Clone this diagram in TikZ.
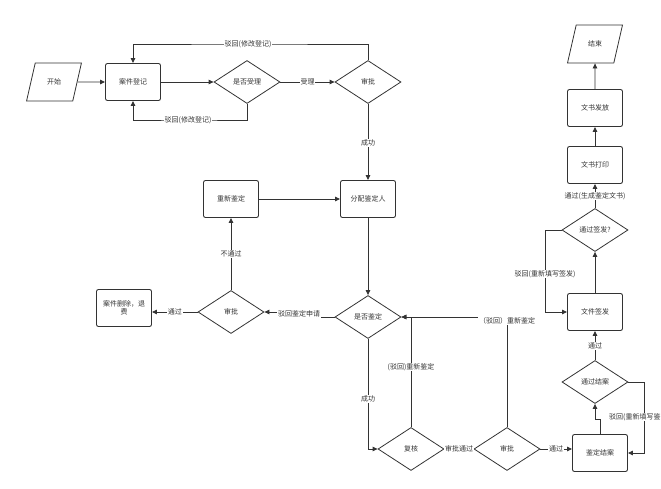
\documentclass[tikz,border=0pt]{standalone}
\usepackage{fontspec}
\setmainfont{Noto Sans CJK SC}
\usetikzlibrary{shapes.geometric,arrows.meta}
\begin{document}
\begin{tikzpicture}[x=1pt,y=-1pt,
  every node/.style={font=\fontsize{7}{8.5}\selectfont, text=black!80},
  ln/.style={draw=black!80, line width=0.8pt},
  arr/.style={ln, -{Triangle[length=5pt,width=4.5pt]}},
  box/.style={draw=black!80, line width=0.9pt, rounded corners=2pt, minimum width=55, minimum height=37, inner sep=1pt, align=center},
  dia/.style={diamond, draw=black!80, line width=0.8pt, minimum width=66, minimum height=43, inner sep=0pt},
  para/.style={trapezium, trapezium left angle=70, trapezium right angle=110, trapezium stretches=true, draw=black!80, line width=0.8pt, minimum width=55, minimum height=38},
  lbl/.style={fill=white, inner sep=0.8pt}]
\useasboundingbox (0,0) rectangle (661,489);
% nodes
\node[para] (start) at (54,82) {开始};
\node[box] (reg) at (133,82) {案件登记};
\node[dia] (acc) at (247,82) {是否受理};
\node[dia] (ap1) at (368,82) {审批};
\node[box] (re) at (231,199) {重新鉴定};
\node[box] (assign) at (368,199) {分配鉴定人};
\node[dia] (ap2) at (231,312) {审批};
\node[box, text width=50] (del) at (124,308) {案件删除，退\\费};
\node[dia] (isid) at (368,317) {是否鉴定};
\node[dia] (rev) at (411,449) {复核};
\node[dia] (ap3) at (507,449) {审批};
\node[box] (close) at (600,453) {鉴定结案};
\node[dia] (pclose) at (595,382) {通过结案};
\node[box] (sign) at (595,312) {文件签发};
\node[dia] (psign) at (595,230) {通过签发?};
\node[box] (print) at (595,165) {文书打印};
\node[box] (issue) at (595,108) {文书发放};
\node[para] (end) at (595,44) {结束};
% edges
\draw[arr] (start.east) -- (reg.west);
\draw[arr] (reg.east) -- (acc.west);
\draw[arr] (acc.east) -- node[lbl]{受理} (ap1.west);
\draw[arr] (ap1.north) |- (248,44) node[lbl]{驳回(修改登记)} -| (reg.north);
\draw[arr] (acc.south) |- (188,120) node[lbl]{驳回(修改登记)} -| (reg.south);
\draw[arr] (ap1.south) -- (assign.north);
\node[lbl] at (368,143) {成功};
\draw[arr] (re.east) -- (assign.west);
\draw[arr] (assign.south) -- (isid.north);
\draw[arr] (isid.west) -- (318,317) -- (318,312) -- (ap2.east);
\node[lbl] at (299,314) {驳回鉴定申请};
\draw[arr] (ap2.west) -- node[lbl]{通过} (ap2.west -| del.east);
\draw[arr] (ap2.north) -- node[lbl]{不通过} (re.south);
\draw[arr] (isid.south) |- (rev.west);
\node[lbl] at (368,399) {成功};
\draw[arr] (rev.north) |- (isid.east);
\node[lbl] at (411,367) {(驳回)重新鉴定};
\draw[arr] (ap3.north) |- (isid.east);
\node[lbl] at (507,321) {（驳回）重新鉴定};
\draw[arr] (rev.east) -- node[lbl]{审批通过} (ap3.west);
\draw[arr] (ap3.east) -- node[lbl]{通过} (ap3.east -| close.west);
\coordinate (c1) at (600,419);
\draw[arr] (close.north -| c1) -- (c1) -- (595,419) -- (pclose.south);
\draw[arr] (pclose.east) -- (644,382) |- (close.east);
\node[lbl, anchor=east, inner sep=0.3pt] at (661,417) {驳回(重新填写鉴};
\draw[arr] (pclose.north) -- node[lbl]{通过} (sign.south);
\draw[arr] (sign.north) -- (psign.south);
\draw[arr] (psign.west) -- (545,230) |- (sign.west);
\node[lbl] at (545,274) {驳回(重新填写签发)};
\draw[arr] (psign.north) -- node[lbl]{通过(生成鉴定文书)} (print.south);
\draw[arr] (print.north) -- (issue.south);
\draw[arr] (issue.north) -- (end.south);
\end{tikzpicture}
\end{document}
